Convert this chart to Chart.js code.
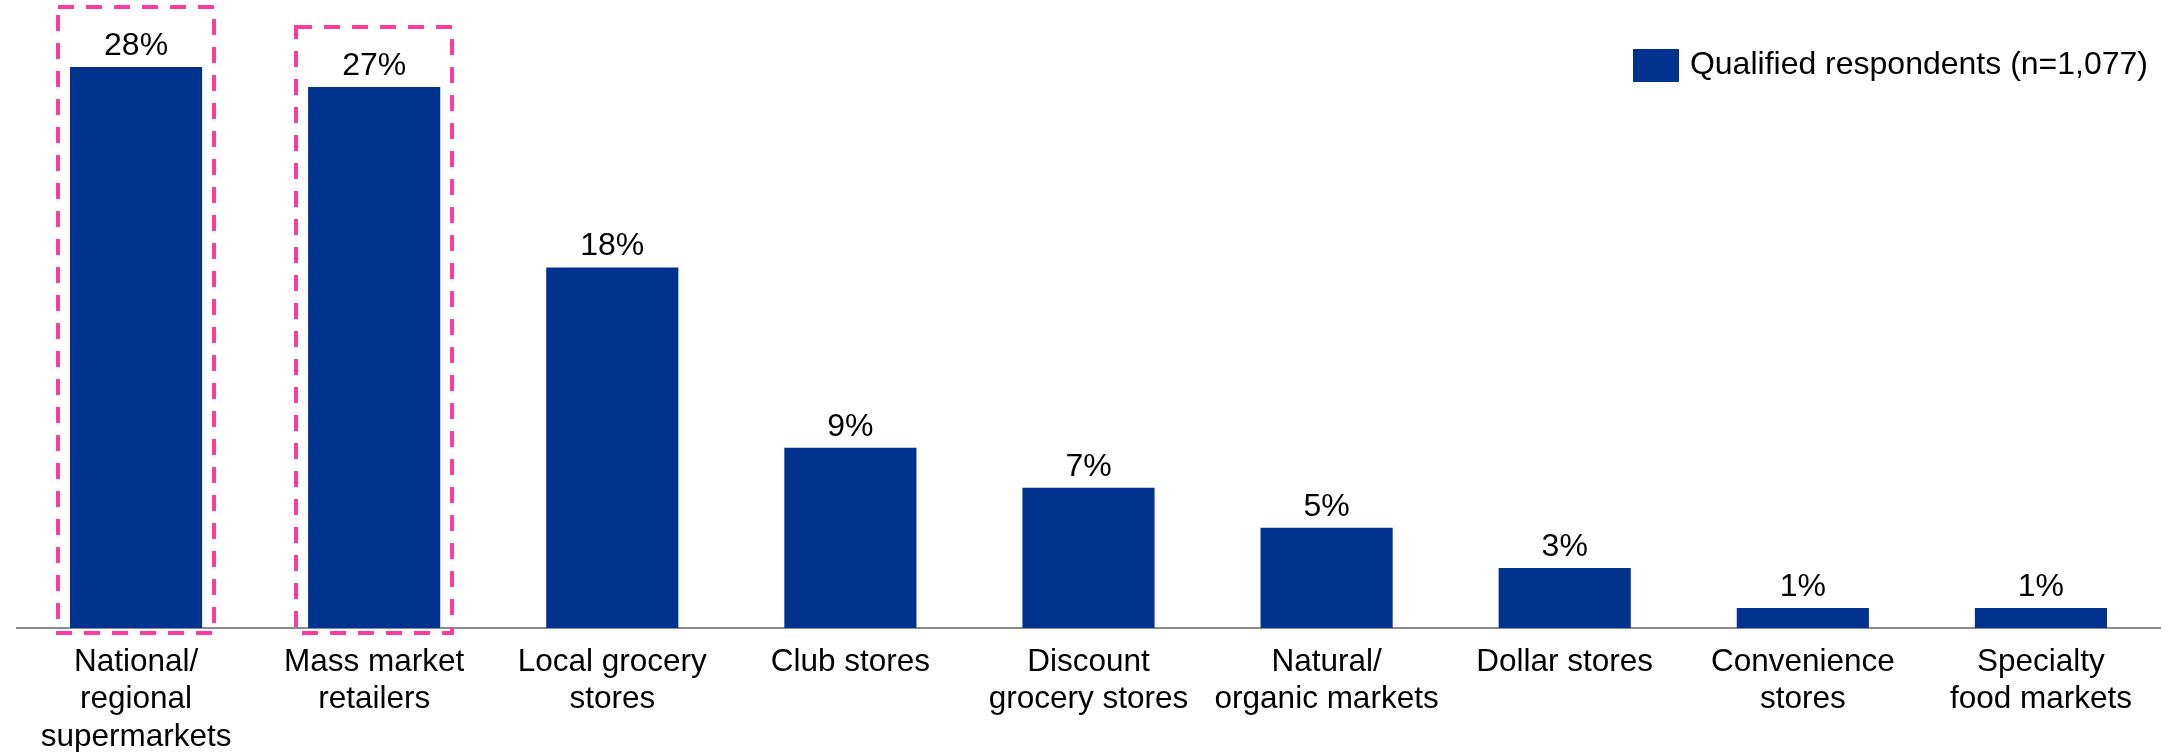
<!DOCTYPE html>
<html>
<head>
<meta charset="utf-8">
<script src="https://cdn.jsdelivr.net/npm/chart.js@4/dist/chart.umd.min.js"></script>
<style>
  body { margin: 0; background: #fff; }
  #wrap { width: 2165px; height: 752px; position: relative; }
</style>
</head>
<body>
<div id="wrap"><canvas id="storeChart"></canvas></div>
<script>
var categories = [
    ['National/', 'regional', 'supermarkets'],
    ['Mass market', 'retailers'],
    ['Local grocery', 'stores'],
    ['Club stores'],
    ['Discount', 'grocery stores'],
    ['Natural/', 'organic markets'],
    ['Dollar stores'],
    ['Convenience', 'stores'],
    ['Specialty', 'food markets']
]
var shares = [28, 27, 18, 9, 7, 5, 3, 1, 1]
var seriesName = 'Qualified respondents (n=1,077)'
// bars that get the dashed outline
var highlighted = [0, 1]

var FONT = '"Liberation Sans", Arial, sans-serif'
var BLUE = '#00338D'

//Writes the percentage above each bar
var valueLabels = {
    id: 'valueLabels',
    afterDatasetsDraw: function (chart) {
        let ctx = chart.ctx
        let meta = chart.getDatasetMeta(0)
        ctx.save()
        ctx.font = '32px ' + FONT
        ctx.fillStyle = '#000'
        ctx.textAlign = 'center'
        ctx.textBaseline = 'alphabetic'
        meta.data.forEach((bar, i) => {
            ctx.fillText(shares[i] + '%', bar.x, bar.y - 12)
        })
        ctx.restore()
    }
}

//Pink dashed frame round the leading bars
var dashedFrames = {
    id: 'dashedFrames',
    afterDraw: function (chart) {
        let ctx = chart.ctx
        let meta = chart.getDatasetMeta(0)
        let bottom = Math.round(chart.chartArea.bottom + 5)
        ctx.save()
        ctx.strokeStyle = '#FF3C9E'
        ctx.lineWidth = 4
        ctx.setLineDash([16, 12])
        highlighted.forEach((i) => {
            let bar = meta.data[i]
            let left = Math.round(bar.x - bar.width / 2 - 12)
            let right = Math.round(bar.x + bar.width / 2 + 12)
            let top = Math.round(bar.y - 60)
            ctx.strokeRect(left, top, right - left, bottom - top)
        })
        ctx.restore()
    }
}

//Single-entry legend in the top right corner of the plot
var cornerLegend = {
    id: 'cornerLegend',
    afterDraw: function (chart) {
        let ctx = chart.ctx
        let ds = chart.data.datasets[0]
        ctx.save()
        ctx.font = '32px ' + FONT
        let textW = ctx.measureText(ds.label).width
        let textX = chart.chartArea.right - 12 - textW
        let midY = 65
        ctx.fillStyle = ds.backgroundColor
        ctx.fillRect(Math.round(textX - 57), midY - 16, 46, 33)
        ctx.fillStyle = '#000'
        ctx.textAlign = 'left'
        ctx.textBaseline = 'middle'
        ctx.fillText(ds.label, textX, midY)
        ctx.restore()
    }
}

new Chart(document.getElementById('storeChart'), {
    type: 'bar',
    data: {
        labels: categories,
        datasets: [{
            label: seriesName,
            data: shares,
            backgroundColor: BLUE,
            borderWidth: 0,
            categoryPercentage: 1,
            barPercentage: 0.555
        }]
    },
    options: {
        responsive: true,
        maintainAspectRatio: false,
        animation: false,
        layout: { padding: { top: 27, left: 17, right: 5, bottom: 0 } },
        plugins: {
            legend: { display: false },
            tooltip: { enabled: false }
        },
        scales: {
            x: {
                grid: { display: false },
                border: { display: true, color: '#8c8c8c', width: 2 },
                ticks: {
                    color: '#000',
                    padding: 8,
                    maxRotation: 0,
                    autoSkip: false,
                    font: { family: FONT, size: 31.5, lineHeight: 1.18 }
                },
                afterFit: function (scale) {
                    scale.height = 124
                }
            },
            y: {
                display: false,
                min: 0,
                max: 30
            }
        }
    },
    plugins: [valueLabels, dashedFrames, cornerLegend]
})
</script>
</body>
</html>
